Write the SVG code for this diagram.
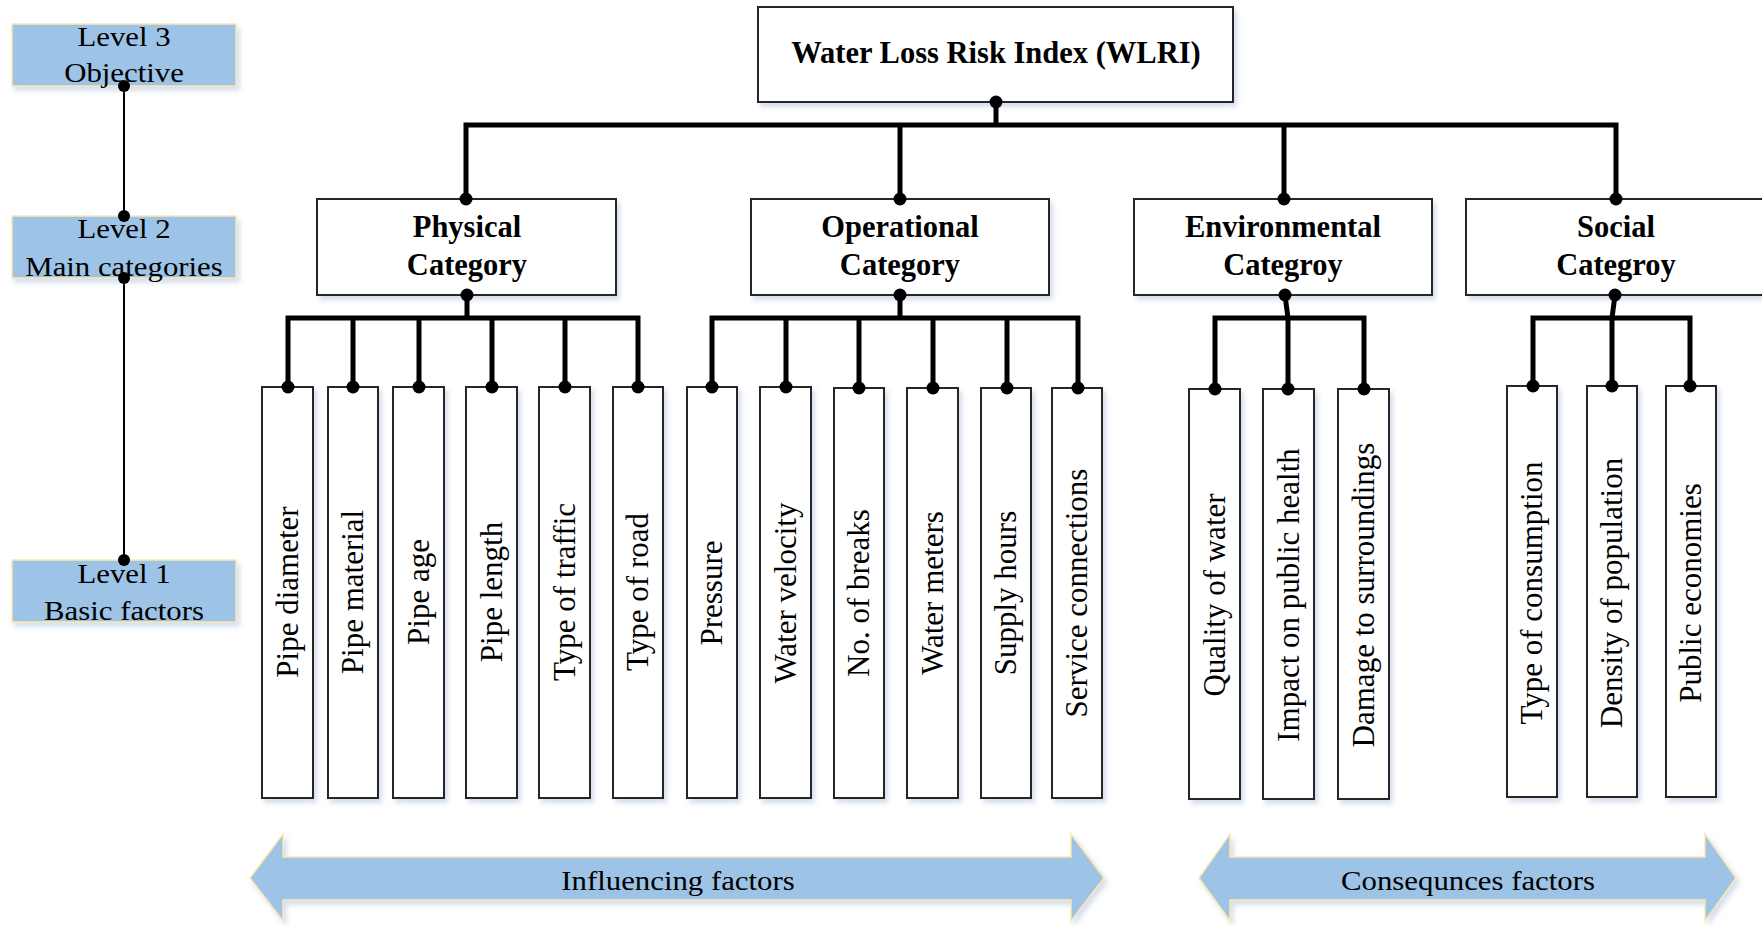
<svg xmlns="http://www.w3.org/2000/svg" width="1762" height="926" viewBox="0 0 1762 926">
<defs>
<filter id="sh" x="-10%" y="-10%" width="130%" height="130%">
<feDropShadow dx="3" dy="4" stdDeviation="2.5" flood-color="#9fb6d8" flood-opacity="0.45"/>
</filter>
<style>
.box{fill:#fff;stroke:#262626;stroke-width:2;filter:url(#sh)}
.lvbox{fill:#9dc3e6;stroke:#fde7b0;stroke-width:1.5;filter:url(#sh)}
.arr{fill:#9dc3e6;stroke:#fde7b0;stroke-width:1.5;filter:url(#sh)}
.wire{fill:none;stroke:#000;stroke-width:5;stroke-linejoin:miter;stroke-linecap:square}
.thin{fill:none;stroke:#000;stroke-width:2}
.dot{fill:#000}
text{font-family:"Liberation Serif","Times New Roman",serif;fill:#000;text-anchor:middle}
.lv{font-size:28px}
.bd{font-size:30.5px;font-weight:bold}
.vt{font-size:31px}
</style>
</defs>

<g id="level-connector">
<line class="thin" x1="124" y1="86" x2="124" y2="560"/>
</g>
<g id="level3">
<rect class="lvbox" x="12" y="24" width="224" height="62"/>
<text class="lv" transform="translate(124,46) scale(1.1,1)">Level 3</text>
<text class="lv" transform="translate(124,82) scale(1.1,1)">Objective</text>
</g>
<g id="level2">
<rect class="lvbox" x="12" y="216" width="224" height="62"/>
<text class="lv" transform="translate(124,238) scale(1.1,1)">Level 2</text>
<text class="lv" transform="translate(124,276) scale(1.1,1)">Main categories</text>
</g>
<g id="level1">
<rect class="lvbox" x="12" y="560" width="224" height="62"/>
<text class="lv" transform="translate(124,583) scale(1.1,1)">Level 1</text>
<text class="lv" transform="translate(124,620) scale(1.1,1)">Basic factors</text>
</g>
<g id="level-dots">
<circle class="dot" cx="124" cy="86" r="6"/>
<circle class="dot" cx="124" cy="216" r="6"/>
<circle class="dot" cx="124" cy="278" r="6"/>
<circle class="dot" cx="124" cy="560" r="6"/>
</g>

<g id="wlri">
<rect class="box" x="758" y="7" width="475" height="95"/>
<text class="bd" x="996" y="63">Water Loss Risk Index (WLRI)</text>
</g>

<g id="physical">
<rect class="box" x="317" y="199" width="299" height="96"/>
<text class="bd" x="467" y="237">Physical</text>
<text class="bd" x="467" y="275">Category</text>
</g>
<g id="operational">
<rect class="box" x="751" y="199" width="298" height="96"/>
<text class="bd" x="900" y="237">Operational</text>
<text class="bd" x="900" y="275">Category</text>
</g>
<g id="environmental">
<rect class="box" x="1134" y="199" width="298" height="96"/>
<text class="bd" x="1283" y="237">Environmental</text>
<text class="bd" x="1283" y="275">Categroy</text>
</g>
<g id="social">
<rect class="box" x="1466" y="199" width="300" height="96"/>
<text class="bd" x="1616" y="237">Social</text>
<text class="bd" x="1616" y="275">Categroy</text>
</g>

<g id="factors-physical">
<g id="f-pipe-diameter"><rect class="box" x="262" y="387" width="51" height="411"/><text class="vt" transform="translate(298,592) rotate(-90)">Pipe diameter</text></g>
<g id="f-pipe-material"><rect class="box" x="328" y="387" width="50" height="411"/><text class="vt" transform="translate(363,592) rotate(-90)">Pipe material</text></g>
<g id="f-pipe-age"><rect class="box" x="393" y="387" width="51" height="411"/><text class="vt" transform="translate(429,592) rotate(-90)">Pipe age</text></g>
<g id="f-pipe-length"><rect class="box" x="466" y="387" width="51" height="411"/><text class="vt" transform="translate(502,592) rotate(-90)">Pipe length</text></g>
<g id="f-type-traffic"><rect class="box" x="539" y="387" width="51" height="411"/><text class="vt" transform="translate(575,592) rotate(-90)">Type of traffic</text></g>
<g id="f-type-road"><rect class="box" x="613" y="387" width="50" height="411"/><text class="vt" transform="translate(648,592) rotate(-90)">Type of road</text></g>
</g>
<g id="factors-operational">
<g id="f-pressure"><rect class="box" x="687" y="387" width="50" height="411"/><text class="vt" transform="translate(722,593) rotate(-90)">Pressure</text></g>
<g id="f-water-velocity"><rect class="box" x="760" y="387" width="51" height="411"/><text class="vt" transform="translate(796,593) rotate(-90)">Water velocity</text></g>
<g id="f-breaks"><rect class="box" x="834" y="388" width="50" height="410"/><text class="vt" transform="translate(869,593) rotate(-90)">No. of breaks</text></g>
<g id="f-meters"><rect class="box" x="907" y="388" width="51" height="410"/><text class="vt" transform="translate(943,593) rotate(-90)">Water meters</text></g>
<g id="f-supply"><rect class="box" x="981" y="388" width="50" height="410"/><text class="vt" transform="translate(1016,593) rotate(-90)">Supply hours</text></g>
<g id="f-service"><rect class="box" x="1052" y="388" width="50" height="410"/><text class="vt" transform="translate(1087,593) rotate(-90)">Service connections</text></g>
</g>
<g id="factors-environmental">
<g id="f-quality"><rect class="box" x="1189" y="389" width="51" height="410"/><text class="vt" transform="translate(1225,595) rotate(-90)">Quality of water</text></g>
<g id="f-health"><rect class="box" x="1263" y="389" width="51" height="410"/><text class="vt" transform="translate(1299,595) rotate(-90)">Impact on public health</text></g>
<g id="f-damage"><rect class="box" x="1338" y="389" width="51" height="410"/><text class="vt" transform="translate(1374,595) rotate(-90)">Damage to surroundings</text></g>
</g>
<g id="factors-social">
<g id="f-consumption"><rect class="box" x="1507" y="386" width="50" height="411"/><text class="vt" transform="translate(1542,593) rotate(-90)">Type of consumption</text></g>
<g id="f-density"><rect class="box" x="1587" y="386" width="50" height="411"/><text class="vt" transform="translate(1622,593) rotate(-90)">Density of population</text></g>
<g id="f-economies"><rect class="box" x="1666" y="386" width="50" height="411"/><text class="vt" transform="translate(1701,593) rotate(-90)">Public economies</text></g>
</g>

<g id="connectors">
<path class="wire" d="M996 102V125M466 199V125H1616V199M900 125V199M1284 125V199"/>
<path class="wire" d="M467 295V318M288 387V318H638V387M353 318V387M419 318V387M492 318V387M565 318V387"/>
<path class="wire" d="M900 295V318M712 387V318H1078V387M786 318V387M859 318V387M933 318V387M1007 318V387"/>
<path class="wire" d="M1285 295L1288 318M1215 389V318H1364V389M1288 318V389"/>
<path class="wire" d="M1615 295L1612 318M1533 386V318H1690V386M1612 318V386"/>
<circle class="dot" cx="996" cy="102" r="6.5"/>
<circle class="dot" cx="466" cy="199" r="6.5"/>
<circle class="dot" cx="900" cy="199" r="6.5"/>
<circle class="dot" cx="1284" cy="199" r="6.5"/>
<circle class="dot" cx="1616" cy="199" r="6.5"/>
<circle class="dot" cx="467" cy="295" r="6.5"/>
<circle class="dot" cx="900" cy="295" r="6.5"/>
<circle class="dot" cx="1285" cy="295" r="6.5"/>
<circle class="dot" cx="1615" cy="295" r="6.5"/>
<circle class="dot" cx="288" cy="387" r="6.5"/>
<circle class="dot" cx="353" cy="387" r="6.5"/>
<circle class="dot" cx="419" cy="387" r="6.5"/>
<circle class="dot" cx="492" cy="387" r="6.5"/>
<circle class="dot" cx="565" cy="387" r="6.5"/>
<circle class="dot" cx="638" cy="387" r="6.5"/>
<circle class="dot" cx="712" cy="387" r="6.5"/>
<circle class="dot" cx="786" cy="387" r="6.5"/>
<circle class="dot" cx="859" cy="388" r="6.5"/>
<circle class="dot" cx="933" cy="388" r="6.5"/>
<circle class="dot" cx="1007" cy="388" r="6.5"/>
<circle class="dot" cx="1078" cy="388" r="6.5"/>
<circle class="dot" cx="1215" cy="389" r="6.5"/>
<circle class="dot" cx="1288" cy="389" r="6.5"/>
<circle class="dot" cx="1364" cy="389" r="6.5"/>
<circle class="dot" cx="1533" cy="386" r="6.5"/>
<circle class="dot" cx="1612" cy="386" r="6.5"/>
<circle class="dot" cx="1690" cy="386" r="6.5"/>
</g>

<g id="influencing-arrow">
<path class="arr" d="M250 878L283 834V857H1071V834L1104 878L1071 921V900H283V921Z"/>
<text class="lv" transform="translate(678,890) scale(1.1,1)">Influencing factors</text>
</g>
<g id="consequences-arrow">
<path class="arr" d="M1199 878L1230 834V857H1705V834L1736 878L1705 921V900H1230V921Z"/>
<text class="lv" transform="translate(1468,890) scale(1.1,1)">Consequnces factors</text>
</g>
</svg>
